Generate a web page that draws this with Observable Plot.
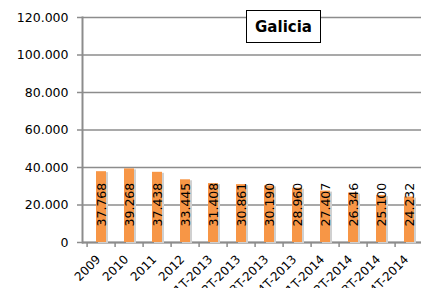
<!DOCTYPE html>
<html>
<head>
<meta charset="utf-8">
<script src="https://cdn.jsdelivr.net/npm/d3@7"></script>
<script src="https://cdn.jsdelivr.net/npm/@observablehq/plot@0.6"></script>
<style>
  html, body { margin: 0; padding: 0; background: #fff; }
  #wrap { position: relative; width: 421px; height: 288px; overflow: hidden; }
  #title {
    position: absolute; left: 246px; top: 10px; width: 73px; height: 31px;
    border: 1.5px solid #000; background: #fff;
    font-family: "DejaVu Sans", sans-serif; font-weight: bold; font-size: 15px;
    display: flex; align-items: center; justify-content: center; color: #000;
  }
</style>
</head>
<body>
<div id="wrap"><div id="title">Galicia</div></div>
<script>
const categories = ["2009", "2010", "2011", "2012", "1T-2013", "2T-2013", "3T-2013", "4T-2013", "1T-2014", "2T-2014", "3T-2014", "4T-2014"];
const values = [37768, 39268, 37438, 33445, 31408, 30861, 30190, 28960, 27407, 26346, 25100, 24232];
const yTicks = [0, 20000, 40000, 60000, 80000, 100000, 120000];

const locale = d3.formatLocale({decimal: ",", thousands: ".", grouping: [3], currency: ["", ""]});
const fmt = locale.format(",d");
const data = categories.map((c, i) => ({cat: c, value: values[i]}));

const grey = "#8c8c8c";
const chart = Plot.plot({
  width: 421,
  height: 288,
  marginLeft: 82,
  marginRight: 0,
  marginTop: 17,
  marginBottom: 46,
  x: {domain: categories, range: [82, 427], paddingInner: 0.65, paddingOuter: 0.325, label: null},
  y: {domain: [0, 120000], label: null},
  style: {fontFamily: "DejaVu Sans, sans-serif", background: "transparent", color: "#000", overflow: "visible"},
  marks: [
    Plot.gridY(yTicks, {stroke: grey, strokeOpacity: 1, strokeWidth: 1.3}),
    Plot.axisY(yTicks, {tickSize: 5, tickPadding: 9, tickFormat: fmt, stroke: grey, strokeWidth: 1.5, fontSize: 12.5, label: null}),
    Plot.frame({anchor: "left", stroke: grey, strokeWidth: 2}),
    Plot.ruleY([0], {stroke: grey, strokeWidth: 2}),
    Plot.axisX({tickSize: 5, tickFormat: () => "", dx: -14.4, stroke: grey, strokeWidth: 1.5, label: null}),
    Plot.barY(data, {x: "cat", y: "value", fill: "#d0d0d0", dx: 2, dy: 1}),
    Plot.barY(data, {x: "cat", y: "value", fill: "#F79646"}),
    Plot.text(data, {x: "cat", y: 0, text: d => fmt(d.value), rotate: -90, textAnchor: "start", dy: -16, fontSize: 12.5, fill: "#000"}),
    Plot.axisX({tickSize: 0, tickRotate: -45, tickPadding: 8, dx: -3, dy: 7, fontSize: 12, label: null})
  ]
});
chart.style.position = "absolute";
chart.style.left = "0px";
chart.style.top = "0px";
const wrap = document.getElementById("wrap");
wrap.insertBefore(chart, wrap.firstChild);
</script>
</body>
</html>
